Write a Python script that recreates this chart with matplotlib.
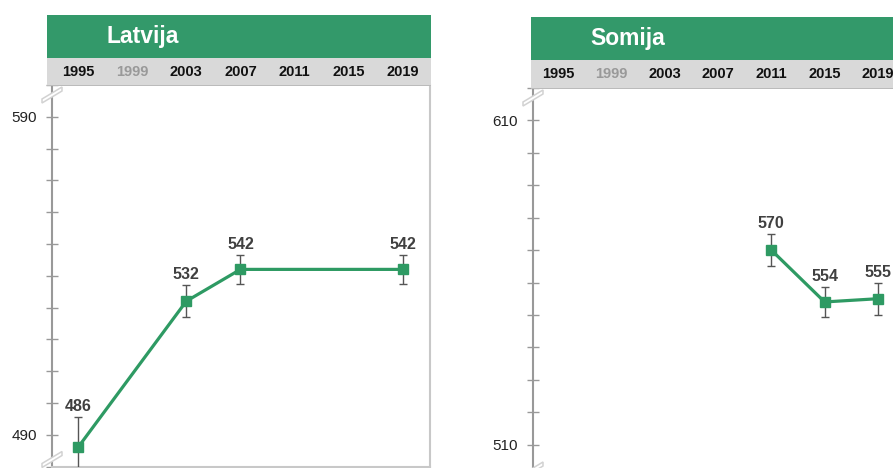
import matplotlib
matplotlib.use("Agg")
import matplotlib.pyplot as plt
import matplotlib.transforms as mtransforms
from matplotlib.patches import Rectangle, Polygon

plt.rcParams['font.family'] = ['Liberation Sans', 'DejaVu Sans']

years = ['1995', '1999', '2003', '2007', '2011', '2015', '2019']
year_colors = ['#111111', '#999999', '#111111', '#111111', '#111111', '#111111', '#111111']

# Latvija
lv_idx = [0, 2, 3, 6]
lv_val = [486, 532, 542, 542]
lv_err = [9.7, 5.0, 4.6, 4.6]

# Somija
fi_idx = [4, 5, 6]
fi_val = [570, 554, 555]
fi_err = [5.0, 4.5, 5.0]

W, H = 893, 468
GREEN = '#33996A'
LINE = '#2E9A63'
BAND = '#D9D9D9'

fig = plt.figure(figsize=(W / 100, H / 100), dpi=100)


def fx(x):
    return x / W


def fy(y):
    return 1 - y / H


def rect(x0, y0, x1, y1, color, z=5):
    fig.add_artist(Rectangle((fx(x0), fy(y1)), fx(x1) - fx(x0), fy(y0) - fy(y1),
                             transform=fig.transFigure, facecolor=color,
                             edgecolor='none', zorder=z))


def brk(x, y):
    # small "axis break" mark across the spine
    pts = [(x - 10, y + 6), (x + 10, y - 6), (x + 10, y - 2), (x - 10, y + 10)]
    fig.add_artist(Polygon([(fx(a), fy(b)) for a, b in pts], closed=True,
                           transform=fig.transFigure, facecolor='white',
                           edgecolor='#D2D2D2', linewidth=1.1, zorder=10))


def panel(left, top, bottom, ylim, xlim, idx, vals, errs, hdr_left, hdr_top,
          title, title_x, labels):
    width = 378
    ax = fig.add_axes([fx(left), fy(bottom), width / W, (bottom - top) / H])
    ax.set_xlim(*xlim)
    ax.set_ylim(*ylim)

    ax.errorbar(idx, vals, yerr=errs, fmt='none', ecolor='#555555',
                elinewidth=1, capsize=3, capthick=1, zorder=3)
    ax.plot(idx, vals, color=LINE, linewidth=2.3, marker='s',
            markersize=7.5, zorder=4)
    for i, v, e in zip(idx, vals, errs):
        ax.annotate(str(v), (i, v + e), xytext=(0, 3), textcoords='offset pixels',
                    ha='center', va='bottom', fontsize=11.5, fontweight='bold',
                    color='#404040')

    ticks = list(range(int(ylim[0]), int(ylim[1]) + 1, 10))
    ax.set_yticks(ticks)
    ax.set_yticklabels([str(t) if t in labels else '' for t in ticks])
    ax.tick_params(axis='y', direction='inout', length=8, width=1,
                   color='#999999', labelsize=11, labelcolor='#222222', pad=7)
    ax.set_xticks([])
    ax.spines['top'].set_visible(False)
    ax.spines['left'].set_color('#999999')
    ax.spines['left'].set_linewidth(1.5)
    for s in ['right', 'bottom']:
        ax.spines[s].set_color('#C8C8C8')
        ax.spines[s].set_linewidth(1.5)

    # header: green title bar and grey year band
    band_top = hdr_top + 43
    rect(hdr_left, hdr_top, left + width + 1, band_top, GREEN)
    rect(hdr_left, band_top, left + width + 1, top + 1, BAND)
    rect(hdr_left, top, left + width + 1, top + 1.3, '#BBBBBB', z=6)
    fig.text(fx(title_x), fy(hdr_top + 22), title, color='white', fontsize=16.5,
             fontweight='bold', ha='left', va='center', zorder=7)
    tr = mtransforms.blended_transform_factory(ax.transData, fig.transFigure)
    for i, (yr, c) in enumerate(zip(years, year_colors)):
        fig.text(i, fy(band_top + 14), yr, transform=tr, ha='center', va='center',
                 fontsize=10.5, fontweight='bold', color=c, zorder=7)

    brk(left, top + 8)
    brk(left, bottom - 9)
    return ax


panel(52, 85, 466.5, (480, 600), (-0.48, 6.5), lv_idx, lv_val, lv_err,
      47, 15, 'Latvija', 107, [490, 590])
panel(533, 88, 477, (500, 620), (-0.47, 6.62), fi_idx, fi_val, fi_err,
      531, 17, 'Somija', 590, [510, 610])

fig.savefig('out.png', dpi=100)
